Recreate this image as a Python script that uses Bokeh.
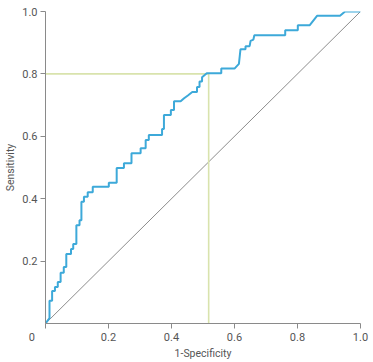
from bokeh.plotting import figure
from bokeh.models import FixedTicker, Range1d, PrintfTickFormatter
from bokeh.embed import file_html
from bokeh.resources import INLINE

# ROC curve points (1-Specificity, Sensitivity)
fpr = [0.0, 0.0127, 0.0127, 0.021, 0.021, 0.030, 0.030, 0.039, 0.039, 0.048, 0.048,
       0.058, 0.058, 0.066, 0.066, 0.081, 0.081, 0.088, 0.088, 0.098, 0.098,
       0.108, 0.108, 0.114, 0.114, 0.122, 0.122, 0.134, 0.134, 0.150, 0.150,
       0.201, 0.201, 0.226, 0.226, 0.249, 0.249, 0.273, 0.273, 0.302, 0.302,
       0.318, 0.318, 0.328, 0.328, 0.370, 0.370, 0.376, 0.376, 0.398, 0.398,
       0.408, 0.408, 0.429, 0.440, 0.452, 0.466, 0.481, 0.481, 0.489, 0.489,
       0.497, 0.497, 0.512, 0.558, 0.558, 0.600, 0.614, 0.619, 0.635, 0.635,
       0.648, 0.651, 0.660, 0.663, 0.761, 0.761, 0.801, 0.801, 0.839, 0.862,
       0.935, 0.951, 1.0]
tpr = [0.0, 0.017, 0.073, 0.073, 0.104, 0.104, 0.117, 0.117, 0.133, 0.133, 0.163,
       0.163, 0.181, 0.181, 0.223, 0.223, 0.239, 0.239, 0.255, 0.255, 0.315,
       0.315, 0.331, 0.331, 0.390, 0.390, 0.406, 0.406, 0.421, 0.421, 0.438,
       0.438, 0.451, 0.451, 0.498, 0.498, 0.514, 0.514, 0.546, 0.546, 0.562,
       0.562, 0.588, 0.588, 0.604, 0.604, 0.623, 0.623, 0.668, 0.668, 0.684,
       0.684, 0.712, 0.712, 0.722, 0.731, 0.742, 0.742, 0.758, 0.758, 0.776,
       0.776, 0.789, 0.802, 0.802, 0.817, 0.817, 0.832, 0.879, 0.879, 0.889,
       0.889, 0.906, 0.910, 0.924, 0.924, 0.940, 0.940, 0.956, 0.956, 0.986,
       0.986, 1.0, 1.0]

cutoff_fpr = 0.518
cutoff_tpr = 0.80
ref_line = [0.0, 1.0]
y_ticks = [0.2, 0.4, 0.6, 0.8, 1.0]
x_ticks = [0.0, 0.2, 0.4, 0.6, 0.8, 1.0]
origin_label = "0"

FONT = "Roboto"
TXT = "#555555"
AX = "#8a8a8a"

p = figure(width=373, height=362, output_backend="svg", toolbar_location=None,
           x_range=Range1d(0, 1), y_range=Range1d(0, 1),
           min_border_left=45, min_border_right=13, min_border_top=11,
           min_border_bottom=35)
p.outline_line_color = None
p.grid.visible = False
p.background_fill_color = "white"
p.border_fill_color = "white"

# diagonal reference
p.line(ref_line, ref_line, line_color="#8c8c8c", line_width=1)
# cutoff guide lines
p.line([0.0, cutoff_fpr], [cutoff_tpr, cutoff_tpr], line_color="#d9e3ad", line_width=1.6)
p.line([cutoff_fpr, cutoff_fpr], [0.0, cutoff_tpr], line_color="#d9e3ad", line_width=1.6)
# ROC curve
p.line(fpr, tpr, line_color="#3da9d9", line_width=2)

for ax in (p.xaxis[0], p.yaxis[0]):
    ax.axis_line_color = AX
    ax.major_tick_line_color = AX
    ax.minor_tick_line_color = None
    ax.major_tick_out = 5
    ax.major_tick_in = 0
    ax.major_label_text_font = FONT
    ax.major_label_text_font_size = "11px"
    ax.major_label_text_color = TXT
    ax.axis_label_text_font = FONT
    ax.axis_label_text_font_size = "10.5px"
    ax.axis_label_text_font_style = "normal"
    ax.axis_label_text_color = TXT
    ax.formatter = PrintfTickFormatter(format="%.1f")

p.xaxis[0].ticker = FixedTicker(ticks=x_ticks)
# origin label drawn left of the origin tick (padded with no-break spaces)
p.xaxis[0].major_label_overrides = {0: origin_label + "\u00a0" * 10}
p.yaxis[0].ticker = FixedTicker(ticks=y_ticks)
p.xaxis[0].axis_label = "1-Specificity"
p.yaxis[0].axis_label = "Sensitivity"
p.xaxis[0].major_label_standoff = 2
p.yaxis[0].major_label_standoff = 3
p.xaxis[0].axis_label_standoff = 0
p.yaxis[0].axis_label_standoff = 2

open("out.html", "w").write(file_html(p, INLINE))
